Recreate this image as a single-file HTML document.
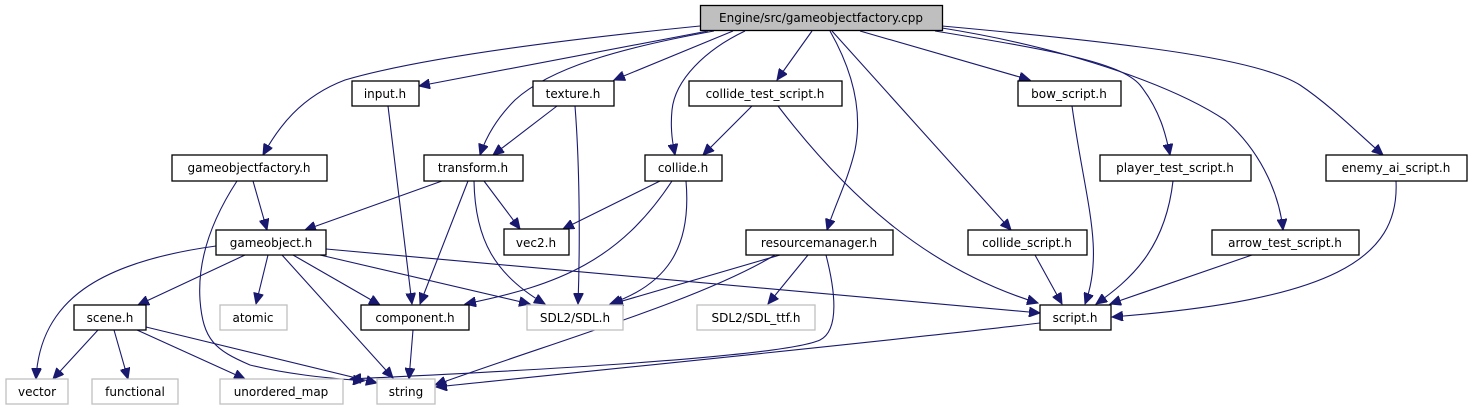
<!DOCTYPE html>
<html><head><meta charset="utf-8"><style>
html,body{margin:0;padding:0;background:#fff;}
svg{display:block;}
text{font-family:"DejaVu Sans","Liberation Sans",sans-serif;font-size:12px;fill:#000;}
.e{fill:none;stroke:#191970;stroke-width:1.1;marker-end:url(#a);}
.n{fill:#fff;stroke:#000;stroke-width:1.3;}
.g{fill:#fff;stroke:#bfbfbf;stroke-width:1.3;}
</style></head><body>
<svg width="1473" height="411" viewBox="0 0 1473 411" xmlns="http://www.w3.org/2000/svg">
<defs><marker id="a" markerUnits="userSpaceOnUse" markerWidth="12" markerHeight="10" refX="11" refY="5" orient="auto"><path d="M0,0 L11,5 L0,10 z" fill="#191970" stroke="#191970"/></marker></defs>
<path class="e" d="M700,26 C560,40 420,58 345,80 C300,97 278,128 263,155"/>
<path class="e" d="M708,31 L419,86"/>
<path class="e" d="M714,31 C620,48 550,68 515,100 C495,120 485,140 480,155"/>
<path class="e" d="M733,31 L614,80"/>
<path class="e" d="M745,31 C705,50 675,80 672,110 C670,130 673,145 675,155"/>
<path class="e" d="M812,31 L777,80"/>
<path class="e" d="M830,31 C855,75 862,115 855,150 C848,180 835,205 827,230"/>
<path class="e" d="M832,31 L1011,230"/>
<path class="e" d="M860,31 L1030,80"/>
<path class="e" d="M935,31 C1050,50 1120,62 1140,85 C1160,110 1166,135 1170,155"/>
<path class="e" d="M942,28 C1080,50 1180,90 1225,120 C1265,155 1280,200 1283,230"/>
<path class="e" d="M942,26 C1150,45 1260,60 1300,85 C1330,105 1360,135 1383,155"/>
<path class="e" d="M557,106 L493,155"/>
<path class="e" d="M575,106 C580,170 580,250 578,304"/>
<path class="e" d="M388,106 L412,304"/>
<path class="e" d="M752,106 L703,155"/>
<path class="e" d="M778,106 C850,200 930,270 1038,303"/>
<path class="e" d="M253,181 L267,230"/>
<path class="e" d="M237,181 C205,230 198,270 200,300 C203,340 215,350 250,365 C290,375 330,378 364,381"/>
<path class="e" d="M442,181 L305,230"/>
<path class="e" d="M468,181 L420,304"/>
<path class="e" d="M484,181 L520,229"/>
<path class="e" d="M474,181 C475,240 495,275 545,304"/>
<path class="e" d="M660,181 L563,229"/>
<path class="e" d="M672,181 C620,260 560,285 465,304"/>
<path class="e" d="M686,181 C692,250 665,285 610,304"/>
<path class="e" d="M216,246 C100,262 40,300 36,379"/>
<path class="e" d="M245,255 L138,305"/>
<path class="e" d="M268,255 L256,304"/>
<path class="e" d="M282,255 L393,378"/>
<path class="e" d="M293,255 L380,305"/>
<path class="e" d="M320,255 L530,304"/>
<path class="e" d="M326,249 L1040,313"/>
<path class="e" d="M98,330 L53,379"/>
<path class="e" d="M114,330 L128,379"/>
<path class="e" d="M137,330 L245,379"/>
<path class="e" d="M146,327 L377,383"/>
<path class="e" d="M413,330 L409,379"/>
<path class="e" d="M780,255 L612,304"/>
<path class="e" d="M775,255 C700,300 560,340 435,385"/>
<path class="e" d="M808,255 L768,304"/>
<path class="e" d="M826,255 C835,290 840,330 820,340 C780,358 500,372 350,379"/>
<path class="e" d="M1035,255 L1062,304"/>
<path class="e" d="M1072,106 C1085,200 1105,250 1085,304"/>
<path class="e" d="M1173,181 C1165,250 1130,280 1096,304"/>
<path class="e" d="M1252,255 L1110,304"/>
<path class="e" d="M1396,181 C1400,260 1330,300 1112,317"/>
<path class="e" d="M1040,323 C900,340 600,370 436,387"/>
<rect x="700.5" y="5.5" width="242" height="25" fill="#bfbfbf" stroke="#000" stroke-width="1.3"/>
<text x="821" y="22" text-anchor="middle">Engine/src/gameobjectfactory.cpp</text>
<g text-anchor="middle">
<rect class="n" x="352" y="81" width="67" height="25"/><text x="385" y="98">input.h</text>
<rect class="n" x="533" y="81" width="81" height="25"/><text x="573" y="98">texture.h</text>
<rect class="n" x="689" y="81" width="153" height="25"/><text x="765" y="98">collide_test_script.h</text>
<rect class="n" x="1018" y="81" width="103" height="25"/><text x="1069" y="98">bow_script.h</text>
<rect class="n" x="172" y="155" width="155" height="26"/><text x="249" y="172">gameobjectfactory.h</text>
<rect class="n" x="424" y="155" width="99" height="26"/><text x="473" y="172">transform.h</text>
<rect class="n" x="645" y="155" width="77" height="26"/><text x="683" y="172">collide.h</text>
<rect class="n" x="1100" y="155" width="151" height="26"/><text x="1175" y="172">player_test_script.h</text>
<rect class="n" x="1326" y="155" width="141" height="26"/><text x="1396" y="172">enemy_ai_script.h</text>
<rect class="n" x="216" y="230" width="110" height="25"/><text x="271" y="247">gameobject.h</text>
<rect class="n" x="504" y="229" width="65" height="26"/><text x="536" y="247">vec2.h</text>
<rect class="n" x="746" y="230" width="147" height="25"/><text x="819" y="247">resourcemanager.h</text>
<rect class="n" x="968" y="230" width="119" height="25"/><text x="1027" y="247">collide_script.h</text>
<rect class="n" x="1212" y="230" width="147" height="25"/><text x="1285" y="247">arrow_test_script.h</text>
<rect class="n" x="74" y="305" width="72" height="25"/><text x="110" y="322">scene.h</text>
<rect class="g" x="220" y="305" width="67" height="25"/><text x="253" y="322">atomic</text>
<rect class="n" x="361" y="305" width="108" height="25"/><text x="415" y="322">component.h</text>
<rect class="g" x="527" y="305" width="96" height="25"/><text x="575" y="322">SDL2/SDL.h</text>
<rect class="g" x="697" y="305" width="118" height="25"/><text x="756" y="322">SDL2/SDL_ttf.h</text>
<rect class="n" x="1040" y="305" width="71" height="25"/><text x="1075" y="322">script.h</text>
<rect class="g" x="6" y="379" width="62" height="25"/><text x="37" y="396">vector</text>
<rect class="g" x="92" y="379" width="86" height="25"/><text x="135" y="396">functional</text>
<rect class="g" x="220" y="379" width="123" height="25"/><text x="281" y="396">unordered_map</text>
<rect class="g" x="377" y="379" width="58" height="25"/><text x="406" y="396">string</text>
</g>
</svg>
</body></html>
